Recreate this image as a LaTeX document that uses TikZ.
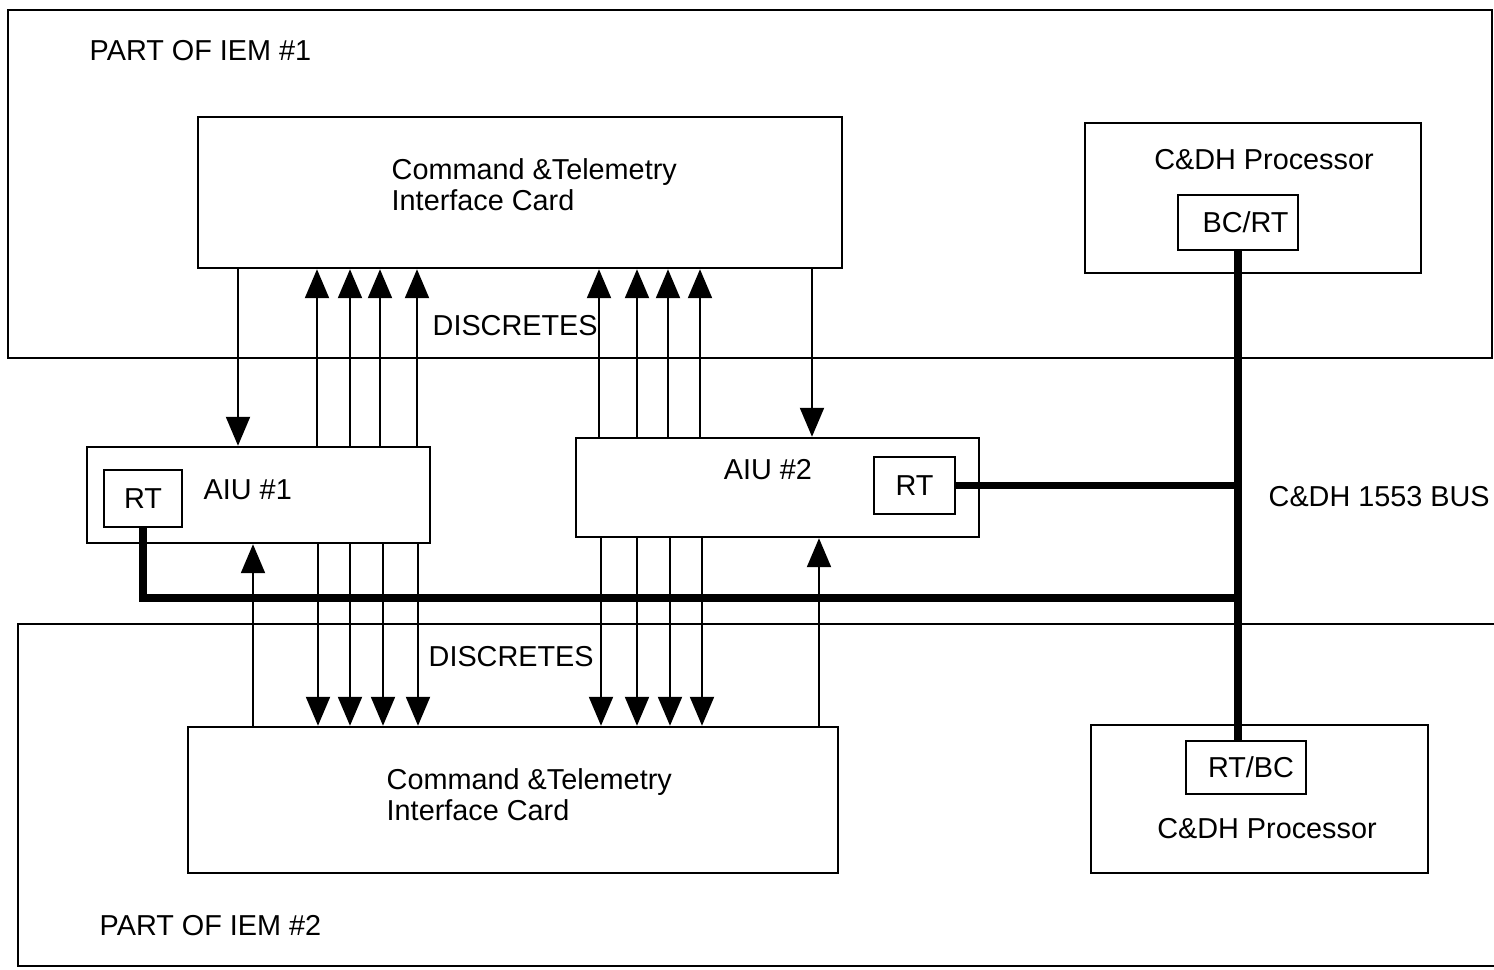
\documentclass[tikz,border=0pt]{standalone}
\usepackage{fontspec}
\setmainfont{Liberation Sans}
\usetikzlibrary{arrows.meta}

\begin{document}
\begin{tikzpicture}[
    every node/.style={font=\fontsize{8.2}{8.8}\selectfont, inner sep=0pt},
    box/.style={draw, line width=0.7pt, inner sep=0pt},
    sig/.style={line width=0.6pt, -{Triangle[width=2.4mm,length=2.9mm]}},
    bus/.style={line width=2pt},
    region/.style={line width=0.8pt}]
        \useasboundingbox (0,0) rectangle (14.94,9.69);
        \draw[region] (14.92,6.11) -- (0.08,6.11) -- (0.08,9.59) -- (14.92,9.59) -- cycle;
        \draw[region] (15.10,3.45) -- (0.18,3.45) -- (0.18,0.03) -- (15.10,0.03);
        \node[anchor=west] (iemA) at (0.89,9.18) {PART OF IEM \#1};
        \node[anchor=west] (iemB) at (0.99,0.43) {PART OF IEM \#2};

        \node[box, minimum width=6.44cm, minimum height=1.51cm] (ctA) at (5.20,7.765) {};
        \node[anchor=west, align=left] (ctAtxt) at (3.91,7.84) {Command \&Telemetry\\Interface Card};
        \node[box, minimum width=6.50cm, minimum height=1.46cm] (ctB) at (5.13,1.69) {};
        \node[anchor=west, align=left] (ctBtxt) at (3.86,1.74) {Command \&Telemetry\\Interface Card};

        \node[box, minimum width=3.43cm, minimum height=0.96cm] (aiuA) at (2.585,4.74) {};
        \node[box, minimum width=0.78cm, minimum height=0.57cm] (rtA) at (1.43,4.705) {RT};
        \node[anchor=west] (aiuAtxt) at (2.03,4.79) {AIU \#1};
        \node[box, minimum width=4.03cm, minimum height=0.99cm] (aiuB) at (7.775,4.815) {};
        \node[box, minimum width=0.81cm, minimum height=0.57cm] (rtB) at (9.145,4.835) {RT};
        \node (aiuBtxt) at (7.68,4.99) {AIU \#2};

        \node[box, minimum width=3.36cm, minimum height=1.50cm] (cdhA) at (12.53,7.71) {};
        \node (cdhAtxt) at (12.64,8.09) {C\&DH Processor};
        \node[box, minimum width=1.20cm, minimum height=0.55cm] (bcrt) at (12.38,7.465) {\hspace{0.15cm}BC/RT};
        \node[box, minimum width=3.37cm, minimum height=1.48cm] (cdhB) at (12.595,1.70) {};
        \node (cdhBtxt) at (12.67,1.40) {C\&DH Processor};
        \node[box, minimum width=1.20cm, minimum height=0.53cm] (rtbc) at (12.46,2.015) {\hspace{0.1cm}RT/BC};

        \node[anchor=west] (discA) at (4.32,6.43) {DISCRETES};
        \node[anchor=west] (discB) at (4.28,3.12) {DISCRETES};
        \node[anchor=west] (buslbl) at (12.68,4.72) {C\&DH 1553 BUS};

        \draw[sig] (2.38,0 |- ctA.south) -- (2.38,0 |- aiuA.north);
        \foreach \x in {3.17,3.50,3.80,4.17} \draw[sig] (\x,0 |- aiuA.north) -- (\x,0 |- ctA.south);
        \foreach \x in {5.99,6.37,6.68,7.00} \draw[sig] (\x,0 |- aiuB.north) -- (\x,0 |- ctA.south);
        \draw[sig] (8.12,0 |- ctA.south) -- (8.12,0 |- aiuB.north);

        \draw[sig] (2.53,0 |- ctB.north) -- (2.53,0 |- aiuA.south);
        \foreach \x in {3.18,3.50,3.83,4.18} \draw[sig] (\x,0 |- aiuA.south) -- (\x,0 |- ctB.north);
        \foreach \x in {6.01,6.37,6.70,7.02} \draw[sig] (\x,0 |- aiuB.south) -- (\x,0 |- ctB.north);
        \draw[sig] (8.19,0 |- ctB.north) -- (8.19,0 |- aiuB.south);

        \coordinate (tapA) at (12.38,3.71);
        \draw[bus] (bcrt.south) -- (rtbc.north -| bcrt.south);
        \draw[bus] (rtB.east) -- (rtB.east -| bcrt.south);
        \draw[bus] (rtA.south) |- (tapA);
      \end{tikzpicture}
\end{document}
